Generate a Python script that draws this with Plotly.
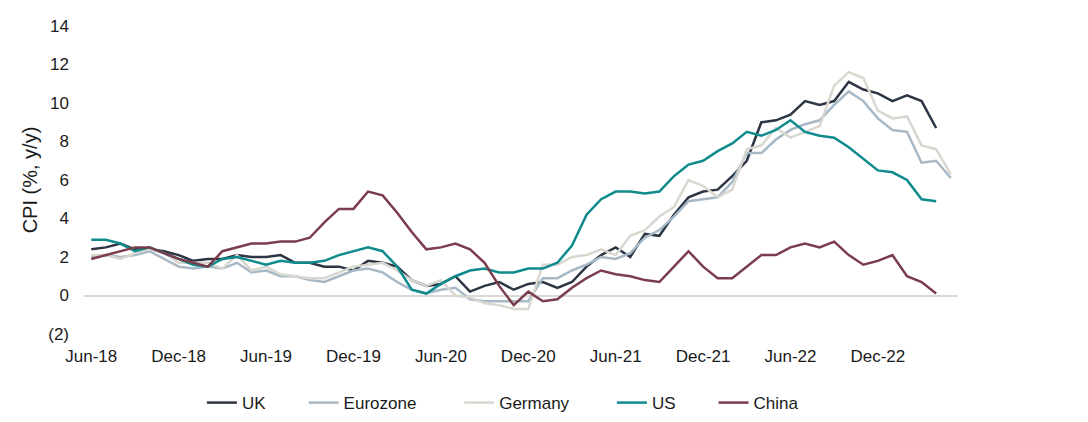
import pandas as pd
import plotly.graph_objects as go

# monthly, Jun-18 onwards
months = pd.date_range("2018-06-01", "2023-05-01", freq="MS").strftime("%b-%y").tolist()

uk = [2.4, 2.5, 2.7, 2.4, 2.4, 2.3, 2.1, 1.8, 1.9, 1.9, 2.1, 2.0,
      2.0, 2.1, 1.7, 1.7, 1.5, 1.5, 1.3, 1.8, 1.7, 1.5, 0.8, 0.5,
      0.6, 1.0, 0.2, 0.5, 0.7, 0.3, 0.6, 0.7, 0.4, 0.7, 1.5, 2.1,
      2.5, 2.0, 3.2, 3.1, 4.2, 5.1, 5.4, 5.5, 6.2, 7.0, 9.0, 9.1,
      9.4, 10.1, 9.9, 10.1, 11.1, 10.7, 10.5, 10.1, 10.4, 10.1, 8.7]
eurozone = [2.0, 2.1, 2.0, 2.1, 2.3, 1.9, 1.5, 1.4, 1.5, 1.4, 1.7, 1.2,
            1.3, 1.0, 1.0, 0.8, 0.7, 1.0, 1.3, 1.4, 1.2, 0.7, 0.3, 0.1,
            0.3, 0.4, -0.2, -0.3, -0.3, -0.3, -0.3, 0.9, 0.9, 1.3, 1.6, 2.0,
            1.9, 2.2, 3.0, 3.4, 4.1, 4.9, 5.0, 5.1, 5.9, 7.4, 7.4, 8.1,
            8.6, 8.9, 9.1, 9.9, 10.6, 10.1, 9.2, 8.6, 8.5, 6.9, 7.0, 6.1]
germany = [2.1, 2.1, 1.9, 2.2, 2.4, 2.2, 1.7, 1.7, 1.7, 1.4, 2.1, 1.3,
           1.5, 1.1, 1.0, 0.9, 0.9, 1.2, 1.5, 1.6, 1.7, 1.3, 0.8, 0.5,
           0.8, 0.0, -0.1, -0.4, -0.5, -0.7, -0.7, 1.6, 1.6, 2.0, 2.1, 2.4,
           2.1, 3.1, 3.4, 4.1, 4.6, 6.0, 5.7, 5.1, 5.5, 7.6, 7.8, 8.7,
           8.2, 8.5, 8.8, 10.9, 11.6, 11.3, 9.6, 9.2, 9.3, 7.8, 7.6, 6.3]
us = [2.9, 2.9, 2.7, 2.3, 2.5, 2.2, 1.9, 1.6, 1.5, 1.9, 2.0, 1.8,
      1.6, 1.8, 1.7, 1.7, 1.8, 2.1, 2.3, 2.5, 2.3, 1.5, 0.3, 0.1,
      0.6, 1.0, 1.3, 1.4, 1.2, 1.2, 1.4, 1.4, 1.7, 2.6, 4.2, 5.0,
      5.4, 5.4, 5.3, 5.4, 6.2, 6.8, 7.0, 7.5, 7.9, 8.5, 8.3, 8.6,
      9.1, 8.5, 8.3, 8.2, 7.7, 7.1, 6.5, 6.4, 6.0, 5.0, 4.9]
china = [1.9, 2.1, 2.3, 2.5, 2.5, 2.2, 1.9, 1.7, 1.5, 2.3, 2.5, 2.7,
         2.7, 2.8, 2.8, 3.0, 3.8, 4.5, 4.5, 5.4, 5.2, 4.3, 3.3, 2.4,
         2.5, 2.7, 2.4, 1.7, 0.5, -0.5, 0.2, -0.3, -0.2, 0.4, 0.9, 1.3,
         1.1, 1.0, 0.8, 0.7, 1.5, 2.3, 1.5, 0.9, 0.9, 1.5, 2.1, 2.1,
         2.5, 2.7, 2.5, 2.8, 2.1, 1.6, 1.8, 2.1, 1.0, 0.7, 0.1]

tick_months = months[::6][:10]
y_ticks = [-2, 0, 2, 4, 6, 8, 10, 12, 14]
y_labels = ["(2)", "0", "2", "4", "6", "8", "10", "12", "14"]

# name, values, colour, trailing spaces in legend
series = [("UK", uk, "#2d3544", 7),
          ("Eurozone", eurozone, "#a7b9c6", 8),
          ("Germany", germany, "#d8d8d0", 8),
          ("US", us, "#0f8b8d", 7),
          ("China", china, "#7b3c4c", 6)]

fig = go.Figure()
for name, vals, col, pad in series:
    fig.add_trace(go.Scatter(x=months[:len(vals)], y=vals, name=name + "\u00a0" * pad,
                             mode="lines", line=dict(color=col, width=2.5)))

# page body has an 8px margin, so the figure is 16px smaller than the window
fig.update_layout(
    width=1072, height=406,
    margin=dict(l=75.5, r=121.5, t=18, b=80),
    paper_bgcolor="white", plot_bgcolor="white",
    font=dict(family="Liberation Sans, Arial", size=17, color="#1a1a1a"),
    showlegend=True,
    legend=dict(orientation="h", xref="container", x=0.1809, xanchor="left",
                yref="container", y=0.027, yanchor="middle",
                font=dict(size=17), traceorder="normal"),
    xaxis=dict(type="category", categoryorder="array", categoryarray=months,
               range=[-0.5, len(months) - 0.5], tickmode="array",
               tickvals=tick_months, ticktext=tick_months,
               showgrid=False, showline=False, zeroline=False, ticks="",
               ticklabelstandoff=10, automargin=False),
    yaxis=dict(range=[-2, 14], tickmode="array", tickvals=y_ticks, ticktext=y_labels,
               showgrid=False, showline=False, ticks="",
               zeroline=True, zerolinecolor="#d9d9d9", zerolinewidth=1.5,
               ticklabelstandoff=14, automargin=False,
               title=dict(text="CPI (%, y/y)", standoff=5)),
)

fig.write_html("out.html")
